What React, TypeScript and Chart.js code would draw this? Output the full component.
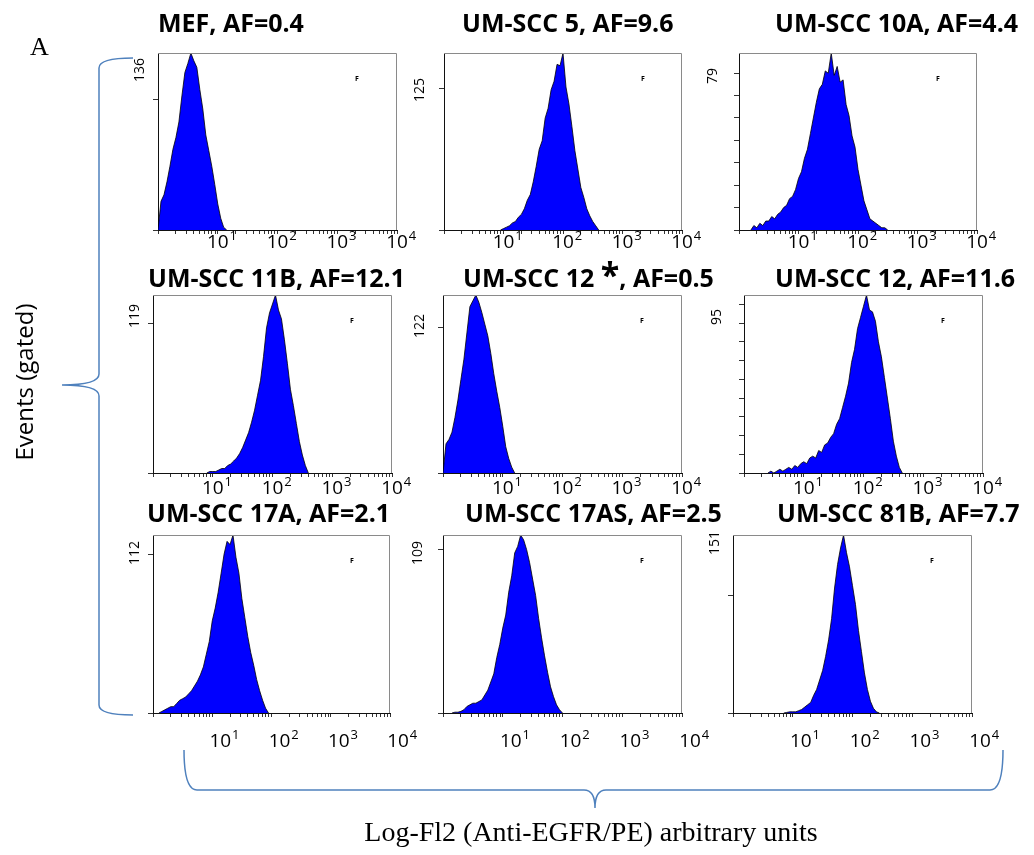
import React, { useEffect, useRef } from "react";
import { Chart, registerables } from "chart.js";

Chart.register(...registerables);

// ---------- DATA ----------
// Fluorescence channel grid (log-spaced, 20 channels per decade), arbitrary units
const channels = [
  1, 1.122, 1.259, 1.413, 1.585, 1.778, 1.995, 2.239, 2.512, 2.818,
  3.162, 3.548, 3.981, 4.467, 5.012, 5.623, 6.31, 7.079, 7.943, 8.913,
  10, 11.22, 12.59, 14.13, 15.85, 17.78, 19.95, 22.39, 25.12, 28.18,
  31.62, 35.48, 39.81, 44.67, 50.12, 56.23, 63.1, 70.79, 79.43, 89.13,
  100, 112.2, 125.9, 141.3, 158.5, 177.8, 199.5, 223.9, 251.2, 281.8,
  316.2, 354.8, 398.1, 446.7, 501.2, 562.3, 631, 707.9, 794.3, 891.3, 1000,
];

const panelTitles = [
  "MEF, AF=0.4",
  "UM-SCC 5, AF=9.6",
  "UM-SCC 10A, AF=4.4",
  "UM-SCC 11B, AF=12.1",
  "UM-SCC 12 *, AF=0.5",
  "UM-SCC 12, AF=11.6",
  "UM-SCC 17A, AF=2.1",
  "UM-SCC 17AS, AF=2.5",
  "UM-SCC 81B, AF=7.7",
];

const panelYMax = [136, 125, 79, 119, 122, 95, 112, 109, 151];
const panelYStep = [100, 100, 10, 100, 100, 10, 100, 100, 100];
// index into `channels` of the first value of each counts array
const panelStart = [0, 19, 4, 18, 0, 8, 2, 3, 17];

const mefCounts = [0, 22, 27, 37, 49, 62, 71, 83, 103, 121, 128, 136, 130, 125, 108, 93, 73, 61, 49, 35, 20, 9, 2, 0];
const scc5Counts = [0, 1, 2, 3, 5, 6, 9, 11, 15, 21, 25, 34, 45, 57, 63, 79, 86, 99, 105, 117, 116, 125, 101, 89, 73, 56, 43, 30, 23, 15, 10, 6, 3, 0];
const scc10aCounts = [0, 2, 1, 3, 2, 4, 4, 6, 5, 7, 8, 10, 11, 14, 15, 18, 23, 26, 32, 36, 43, 50, 57, 63, 65, 71, 70, 79, 69, 73, 66, 67, 56, 51, 42, 37, 27, 20, 13, 9, 5, 4, 3, 2, 1, 1, 0];
const scc11bCounts = [0, 1, 1, 1, 2, 3, 3, 5, 6, 8, 10, 13, 17, 22, 27, 34, 42, 52, 62, 78, 97, 107, 113, 119, 109, 103, 89, 73, 56, 45, 33, 21, 12, 5, 0];
const scc12StarCounts = [0, 20, 23, 28, 38, 50, 64, 78, 96, 114, 118, 122, 117, 110, 102, 94, 82, 68, 56, 45, 32, 18, 10, 4, 0];
const scc12Counts = [0, 1, 0, 1, 2, 1, 2, 3, 2, 4, 3, 5, 6, 5, 8, 9, 8, 12, 11, 15, 16, 19, 21, 26, 29, 35, 41, 48, 59, 66, 77, 83, 89, 95, 87, 86, 81, 70, 62, 51, 40, 29, 17, 9, 3, 0];
const scc17aCounts = [0, 1, 2, 3, 4, 4, 6, 8, 9, 10, 12, 14, 17, 20, 24, 29, 37, 45, 58, 66, 76, 88, 100, 108, 106, 112, 98, 88, 72, 60, 48, 38, 30, 21, 14, 8, 3, 0];
const scc17asCounts = [0, 0.5, 0.5, 1, 2, 4, 5, 6, 6, 7, 8, 11, 14, 19, 24, 34, 42, 52, 60, 74, 84, 98, 102, 109, 106, 100, 92, 82, 72, 58, 46, 35, 25, 16, 10, 5, 2, 0];
const scc81bCounts = [0, 0.5, 1, 1, 1, 2, 3, 5, 7, 9, 15, 20, 28, 36, 48, 62, 80, 106, 126, 140, 151, 136, 124, 108, 92, 70, 52, 34, 20, 10, 4, 1, 0];

const panelCounts = [
  mefCounts, scc5Counts, scc10aCounts,
  scc11bCounts, scc12StarCounts, scc12Counts,
  scc17aCounts, scc17asCounts, scc81bCounts,
];

const xMin = 1;
const xMax = 10000;
const xTickExponents = [1, 2, 3, 4];

// ---------- LAYOUT ----------
const PAD_L = 40;
const PAD_T = 10;
const PAD_R = 40;
const PAD_B = 44;

const boxes = [
  { L: 158, T: 53, W: 239, H: 177 },
  { L: 444, T: 53, W: 238, H: 177 },
  { L: 739, T: 53, W: 238, H: 177 },
  { L: 153, T: 295, W: 239, H: 178 },
  { L: 443, T: 295, W: 239, H: 178 },
  { L: 744, T: 295, W: 239, H: 178 },
  { L: 153, T: 535, W: 237, H: 178 },
  { L: 443, T: 535, W: 239, H: 178 },
  { L: 733, T: 535, W: 239, H: 178 },
];
const yLabelOffset = [
  [-18, 17], [-24, 37], [-26, 23],
  [-18, 21], [-23, 31], [-27, 22],
  [-18, 18], [-25, 18], [-18, 8],
];
const xLabelBaseline = [18, 18, 18, 21, 21, 21, 34, 34, 34];
const xLabelShift = [0, 0, 0, 0, 0, 0, 8, 8, 8];
const titlePos = [
  [158, 32], [462, 32], [775, 32],
  [148, 287], [463, 287], [775, 287],
  [147, 522], [465, 522], [777, 522],
];

const decorPlugin = {
  id: "decor",
  afterDraw(chart: any, _args: any, opts: any) {
    const { ctx, chartArea: a } = chart;
    const xs = chart.scales.x;
    ctx.save();
    // light frame on top and right
    ctx.strokeStyle = "#8a8a8a";
    ctx.lineWidth = 1;
    ctx.beginPath();
    ctx.moveTo(a.left, a.top + 0.5);
    ctx.lineTo(a.right - 0.5, a.top + 0.5);
    ctx.lineTo(a.right - 0.5, a.bottom);
    ctx.stroke();
    // tiny marker
    ctx.fillStyle = "#000";
    ctx.font = 'bold 7px "Open Sans"';
    ctx.textAlign = "center";
    ctx.textBaseline = "middle";
    ctx.fillText("F", a.left + 199, a.top + 26);
    // decade labels with superscripts
    ctx.textBaseline = "alphabetic";
    ctx.textAlign = "left";
    for (const e of xTickExponents) {
      const px = xs.getPixelForValue(Math.pow(10, e)) + opts.labelShift;
      const base = a.bottom + opts.labelBaseline;
      ctx.font = '19px "Open Sans"';
      const w = ctx.measureText("10").width;
      ctx.fillText("10", px - w / 2, base);
      ctx.font = '13px "Open Sans"';
      ctx.fillText(String(e), px + w / 2 + 1, base - 8);
    }
    // y max label, rotated
    ctx.font = '14px "Open Sans"';
    ctx.translate(a.left + opts.yLabelDx, a.top + opts.yLabelDy);
    ctx.rotate(-Math.PI / 2);
    ctx.textAlign = "center";
    ctx.textBaseline = "middle";
    ctx.fillText(String(chart.scales.y.max), 0, 0);
    ctx.restore();
  },
};

function Panel({ idx }: { idx: number }) {
  const ref = useRef<HTMLCanvasElement>(null);
  const b = boxes[idx];
  useEffect(() => {
    const start = panelStart[idx];
    const points = panelCounts[idx].map((c, i) => ({ x: channels[start + i], y: c }));
    const yMax = panelYMax[idx];
    const yStep = panelYStep[idx];
    const chart = new Chart(ref.current as HTMLCanvasElement, {
      type: "line",
      data: {
        datasets: [
          {
            data: points,
            fill: "origin",
            backgroundColor: "#0000ff",
            borderColor: "#000000",
            borderWidth: 0.8,
            pointRadius: 0,
            tension: 0,
          },
        ],
      },
      options: {
        responsive: false,
        animation: false,
        devicePixelRatio: 1,
        events: [],
        layout: { padding: { top: PAD_T, right: PAD_R, left: 0, bottom: 0 } },
        plugins: {
          legend: { display: false },
          tooltip: { enabled: false },
          decor: {
            labelShift: xLabelShift[idx],
            labelBaseline: xLabelBaseline[idx],
            yLabelDx: yLabelOffset[idx][0],
            yLabelDy: yLabelOffset[idx][1],
          },
        } as any,
        scales: {
          x: {
            type: "logarithmic",
            min: xMin,
            max: xMax,
            position: "bottom",
            afterBuildTicks: (s: any) => {
              const t: any[] = [];
              for (let v = 1; v < xMax; v *= 10) {
                for (let m = 1; m <= 9; m++) t.push({ value: m * v });
              }
              t.push({ value: xMax });
              s.ticks = t;
            },
            afterFit: (s: any) => {
              s.height = PAD_B;
            },
            ticks: { display: false },
            grid: { drawOnChartArea: false, drawTicks: true, tickLength: 4, color: "#333" },
            border: { display: true, color: "#111", width: 1 },
          },
          y: {
            type: "linear",
            min: 0,
            max: yMax,
            afterBuildTicks: (s: any) => {
              const t: any[] = [];
              for (let v = 0; v < yMax; v += yStep) t.push({ value: v });
              s.ticks = t;
            },
            afterFit: (s: any) => {
              s.width = PAD_L;
            },
            ticks: { display: false },
            grid: { drawOnChartArea: false, drawTicks: true, tickLength: 5, color: "#333" },
            border: { display: true, color: "#111", width: 1 },
          },
        },
      } as any,
      plugins: [decorPlugin as any],
    });
    return () => chart.destroy();
  }, [idx]);
  const w = PAD_L + b.W + PAD_R;
  const h = PAD_T + b.H + PAD_B;
  return (
    <canvas
      ref={ref}
      width={w}
      height={h}
      style={{ position: "absolute", left: b.L - PAD_L, top: b.T - PAD_T, width: w, height: h }}
    />
  );
}

const leftBrace =
  "M133,58 Q99,58 99,68 L99,374 Q99,385 62,385 Q99,385 99,396 L99,705 Q99,715 133,715";
const bottomBrace =
  "M184,750 Q184,790 197,790 L584,790 Q595,790 595,808 Q595,790 606,790 L990,790 Q1003,790 1003,750";

function Title({ idx }: { idx: number }) {
  const [x, y] = titlePos[idx];
  const t = panelTitles[idx];
  const common = { fontFamily: "'Open Sans', sans-serif", fontWeight: 700, fontSize: 25, fill: "#000" } as any;
  if (t.includes("*")) {
    const [a, rest] = t.split("*");
    return (
      <text x={x} y={y} {...common}>
        {a}
        <tspan fontSize={34}>*</tspan>
        {rest}
      </text>
    );
  }
  return (
    <text x={x} y={y} {...common}>
      {t}
    </text>
  );
}

export default function App() {
  return (
    <div style={{ position: "absolute", left: 0, top: 0, width: 1034, height: 855, background: "#fff", overflow: "hidden" }}>
      {boxes.map((_, i) => (
        <Panel key={i} idx={i} />
      ))}
      <svg width={1034} height={855} style={{ position: "absolute", left: 0, top: 0, pointerEvents: "none" }}>
        <path d={leftBrace} stroke="#4f81bd" strokeWidth={1.5} fill="none" />
        <path d={bottomBrace} stroke="#4f81bd" strokeWidth={1.5} fill="none" />
        <text x={30} y={55} fontFamily="'Liberation Serif', 'Times New Roman', serif" fontSize={26}>
          A
        </text>
        <text
          transform="translate(33,382) rotate(-90)"
          textAnchor="middle"
          fontFamily="'Open Sans', sans-serif"
          fontSize={24}
        >
          Events (gated)
        </text>
        <text x={591} y={841} textAnchor="middle" fontFamily="'Liberation Serif', 'Times New Roman', serif" fontSize={28}>
          Log-Fl2 (Anti-EGFR/PE) arbitrary units
        </text>
        {panelTitles.map((_, i) => (
          <Title key={i} idx={i} />
        ))}
      </svg>
    </div>
  );
}
